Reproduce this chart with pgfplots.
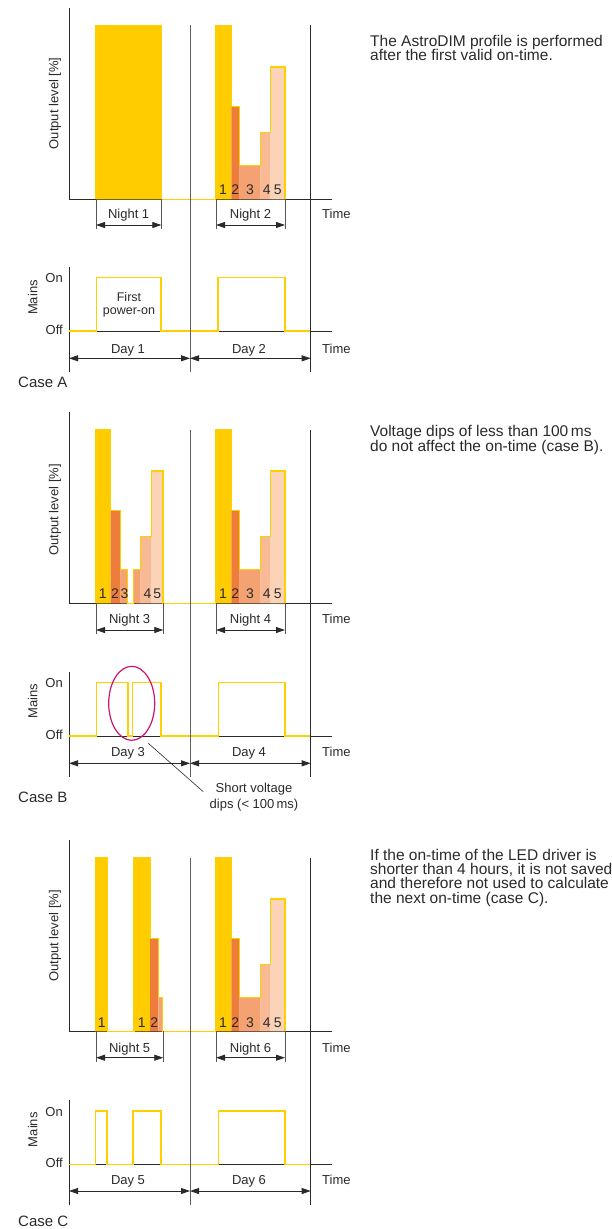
\documentclass[border=0pt]{standalone}
\usepackage{pgfplots}
\pgfplotsset{compat=1.18}
\usepackage{fontspec}
\setmainfont{Liberation Sans}
\usetikzlibrary{arrows.meta}
\definecolor{yel}{HTML}{FFCC00}
\definecolor{outl}{HTML}{FFD000}
\definecolor{cB}{HTML}{EE7D3C}
\definecolor{cC}{HTML}{F4A272}
\definecolor{cD}{HTML}{F7BA95}
\definecolor{cE}{HTML}{FBD4B8}
\definecolor{mag}{HTML}{CC1372}
\definecolor{ink}{HTML}{2A2A2A}
\newcommand\seg[4]{\addplot[const plot, fill=#1, draw=none, forget plot] coordinates {(#2,#4) (#3,#4)} \closedcycle;}
\newcommand\baseline{\draw[line width=0.9pt, draw=ink] (axis cs:0,0) -- (axis cs:263,0);}
\pgfplotsset{
  outpanel/.style={scale only axis, width=263pt, height=191.5pt, anchor=south west,
    xmin=0, xmax=263, ymin=0, ymax=110.06, axis x line*=bottom, axis y line*=left,
    axis line style={line width=0.9pt, draw=ink}, x axis line style={draw=none}, xtick=\empty, ytick=\empty, clip=false},
  mainspanel/.style={scale only axis, width=263pt, height=105.5pt, anchor=south west,
    xmin=0, xmax=263, ymin=-0.77, ymax=1.21, axis x line*=middle, axis y line*=left,
    axis line style={line width=0.9pt, draw=ink}, x axis line style={draw=none}, xtick=\empty, ytick=\empty, clip=false},
  envelope/.style={const plot, draw=outl, line width=1.4pt},
  signal/.style={const plot, draw=outl, line width=1.5pt},
}
\tikzset{
  lbl/.style={font=\fontsize{13}{15}\selectfont, inner sep=0pt, text=ink},
  num/.style={font=\fontsize{14}{16}\selectfont, inner sep=0pt, text=ink, anchor=base},
  rtx/.style={font=\fontsize{15.5}{17}\selectfont, inner sep=0pt, text=ink, anchor=base west},
  cas/.style={font=\fontsize{15}{17}\selectfont, inner sep=0pt, text=ink, anchor=base west},
  dim/.style={{Triangle[length=9pt,width=6pt]}-{Triangle[length=9pt,width=6pt]}, line width=0.8pt, draw=ink},
  brk/.style={line width=0.8pt, draw=ink!80},
}
\begin{document}
\begin{tikzpicture}
\useasboundingbox (0pt,0pt) rectangle (611pt,-1229pt);

% ---------------- Case A ----------------
\begin{axis}[outpanel, at={(69pt,-199.3pt)}]
\baseline
\seg{yel}{27}{92.3}{100}
\seg{yel}{147}{162.3}{100}
\seg{cB}{162.3}{170.7}{53.5}
\seg{cC}{170.7}{191.7}{19.5}
\seg{cD}{191.7}{201.7}{38.5}
\seg{cE}{201.7}{216}{76}
\addplot[envelope] coordinates {(27,0) (27,100) (92.3,0) (147,100) (162.3,53.5) (170.7,19.5) (191.7,38.5) (201.7,76) (216,0) (216,0)};
\end{axis}
\begin{axis}[mainspanel, at={(69pt,-372pt)}]
\baseline
\addplot[signal] coordinates {(0,0) (27.7,1) (92,0) (149,1) (216,0) (241.7,0)};
\end{axis}

% ---------------- Case B ----------------
\begin{axis}[outpanel, at={(69pt,-603.3pt)}]
\baseline
\seg{yel}{27}{41.7}{100}
\seg{cB}{41.7}{51.7}{53.5}
\seg{cC}{51.7}{58.3}{19.5}
\seg{cC}{64.3}{71.7}{19.5}
\seg{cD}{71.7}{82.5}{38.5}
\seg{cE}{82.5}{94}{76}
\seg{yel}{147}{162.3}{100}
\seg{cB}{162.3}{170.7}{53.5}
\seg{cC}{170.7}{191.7}{19.5}
\seg{cD}{191.7}{201.7}{38.5}
\seg{cE}{201.7}{216}{76}
\addplot[envelope] coordinates {(27,0) (27,100) (41.7,53.5) (51.7,19.5) (58.3,0) (64.3,19.5) (71.7,38.5) (82.5,76) (94,0) (147,100) (162.3,53.5) (170.7,19.5) (191.7,38.5) (201.7,76) (216,0) (216,0)};
\end{axis}
\begin{axis}[mainspanel, at={(69pt,-777pt)}]
\baseline
\addplot[signal] coordinates {(0,0) (27.7,1) (59,0) (63.7,1) (92,0) (149.3,1) (216,0) (241.7,0)};
\end{axis}

% ---------------- Case C ----------------
\begin{axis}[outpanel, at={(69pt,-1031.3pt)}]
\baseline
\seg{yel}{26.3}{38.3}{100}
\seg{yel}{65}{81}{100}
\seg{cB}{81}{89.3}{53.5}
\seg{cC}{89.3}{93.7}{19.5}
\seg{yel}{147}{162.3}{100}
\seg{cB}{162.3}{170.7}{53.5}
\seg{cC}{170.7}{191.7}{19.5}
\seg{cD}{191.7}{201.7}{38.5}
\seg{cE}{201.7}{216}{76}
\addplot[envelope] coordinates {(26.3,0) (26.3,100) (38.3,0) (65,100) (81,53.5) (89.3,19.5) (93.7,0) (147,100) (162.3,53.5) (170.7,19.5) (191.7,38.5) (201.7,76) (216,0) (216,0)};
\end{axis}
\begin{axis}[mainspanel, at={(69pt,-1205.3pt)}]
\baseline
\addplot[signal] coordinates {(0,0) (26.7,1) (38,0) (64,1) (92,0) (149.3,1) (216,0) (241.7,0)};
\end{axis}

% ---------------- annotations ----------------
\begin{scope}[x=1pt,y=-1pt]
% dividers
\draw[line width=0.9pt, draw=ink!75] (190,25) -- (190,372);
\draw[line width=0.9pt, draw=ink] (310.7,25) -- (310.7,372);
\draw[line width=0.9pt, draw=ink!75] (190,430) -- (190,777);
\draw[line width=0.9pt, draw=ink] (310.7,430) -- (310.7,777);
\draw[line width=0.9pt, draw=ink!75] (190,858.3) -- (190,1205.3);
\draw[line width=0.9pt, draw=ink] (310.7,858.3) -- (310.7,1205.3);

% night brackets
\foreach \xa/\xb/\base/\ay/\nm/\yl in {96/161.3/199.3/225/Night 1/218.5, 216/285/199.3/225/Night 2/218.5,
  96/163.3/603.3/630/Night 3/623.5, 216/285/603.3/630/Night 4/623.5,
  96/163.3/1031.3/1057.7/Night 5/1052, 216/285/1031.3/1057.7/Night 6/1052}{
  \draw[brk] (\xa,\base) -- (\xa,\ay+4);
  \draw[brk] (\xb,\base) -- (\xb,\ay+4);
  \draw[dim] (\xa,\ay) -- (\xb,\ay);
  \node[lbl, anchor=base] at ({(\xa+\xb)/2},\yl) {\nm};
}
% day arrows
\foreach \ay/\yl/\da/\db in {358.3/353/Day 1/Day 2, 763.3/756.5/Day 3/Day 4, 1191/1184/Day 5/Day 6}{
  \draw[dim] (69,\ay) -- (190,\ay);
  \draw[dim] (190,\ay) -- (310.7,\ay);
  \node[lbl, anchor=base] at (128,\yl) {\da};
  \node[lbl, anchor=base] at (249,\yl) {\db};
}
% Time labels
\foreach \yl in {218.5, 353, 623.5, 756.5, 1052, 1184}{
  \node[lbl, anchor=base west] at (322,\yl) {Time};
}
% y labels
\foreach \yc in {103.3, 510, 936}{
  \node[lbl, anchor=base, rotate=90] at (58.3,\yc) {Output level [\%]};
}
\foreach \yc in {297.5, 701.3, 1129.7}{
  \node[lbl, anchor=base, rotate=90] at (37.3,\yc) {Mains};
}
% On / Off
\foreach \yon/\yoff in {282/334, 687/739, 1116/1167}{
  \node[lbl, anchor=base east] at (63,\yon) {On};
  \node[lbl, anchor=base east] at (63,\yoff) {Off};
}
% digits
\foreach \y in {194.3, 598.3, 1027.3}{
  \node[num] at (223,\y) {1};
  \node[num] at (235.3,\y) {2};
  \node[num] at (250,\y) {3};
  \node[num] at (266.7,\y) {4};
  \node[num] at (277.7,\y) {5};
}
\node[num] at (102.7,598.3) {1};
\node[num] at (115,598.3) {2};
\node[num] at (124.5,598.3) {3};
\node[num] at (147.5,598.3) {4};
\node[num] at (157.2,598.3) {5};
\node[num] at (101.7,1027.3) {1};
\node[num] at (141.7,1027.3) {1};
\node[num] at (154.3,1027.3) {2};

% First power-on
\node[lbl, font=\fontsize{12.5}{14}\selectfont, anchor=base] at (129,301) {First};
\node[lbl, font=\fontsize{12.5}{14}\selectfont, anchor=base] at (129,314) {power-on};

% ellipse + callout
\draw[mag, line width=1.2pt] (131.7,703.3) ellipse [x radius=23pt, y radius=37pt];
\draw[line width=0.6pt, draw=ink] (148.3,743.3) -- (203.3,791.7);
\node[lbl, anchor=base] at (254,792.7) {Short voltage};
\node[lbl, anchor=base] at (254,808) {dips (< 100\,ms)};

% case labels
\node[cas] at (18,387) {Case A};
\node[cas] at (18,802) {Case B};
\node[cas] at (18,1226) {Case C};

% right texts
\node[rtx] at (370,46) {The AstroDIM profile is performed};
\node[rtx] at (370,60.4) {after the first valid on-time.};
\node[rtx] at (370,436.5) {Voltage dips of less than 100\,ms};
\node[rtx] at (370,451) {do not affect the on-time (case B).};
\node[rtx] at (370,860) {If the on-time of the LED driver is};
\node[rtx] at (370,874.4) {shorter than 4 hours, it is not saved};
\node[rtx] at (370,888.8) {and therefore not used to calculate};
\node[rtx] at (370,903.2) {the next on-time (case C).};
\end{scope}
\end{tikzpicture}
\end{document}
